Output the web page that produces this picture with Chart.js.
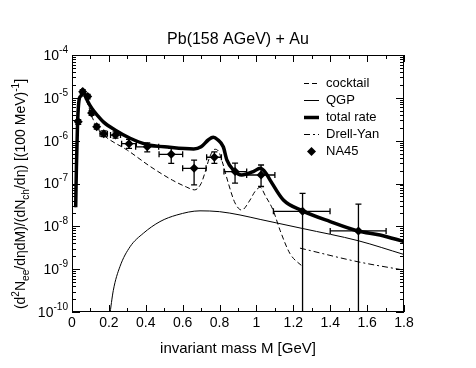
<!DOCTYPE html>
<html>
<head>
<meta charset="utf-8">
<script src="https://cdn.jsdelivr.net/npm/chart.js@4.4.0/dist/chart.umd.min.js"></script>
<style>
  html, body { margin: 0; padding: 0; background: #fff; }
</style>
</head>
<body>
<canvas id="chart" width="476" height="368"></canvas>
<script>
// cocktail (hadronic decays)
const cocktailMass = [0.020, 0.024, 0.030, 0.040, 0.050, 0.058, 0.070, 0.090, 0.110, 0.140, 0.183, 0.300, 0.427, 0.544, 0.620, 0.665, 0.700, 0.720, 0.748, 0.775, 0.795, 0.815, 0.848, 0.884, 0.920, 0.965, 0.992, 1.020, 1.050, 1.090, 1.128, 1.182, 1.250];
const cocktailRate = [2.8e-8, 2.5e-7, 2.2e-6, 8.9e-6, 1.05e-5, 1.48e-5, 1.07e-5, 6.3e-6, 3.5e-6, 1.9e-6, 1.23e-6, 6.0e-7, 2.45e-7, 1.2e-7, 8.3e-8, 7.1e-8, 1.0e-7, 1.74e-7, 4.3e-7, 6.3e-7, 5.6e-7, 3.2e-7, 1.0e-7, 3.5e-8, 2.4e-8, 4.1e-8, 6.5e-8, 8.1e-8, 5.0e-8, 2.4e-8, 8.1e-9, 2.3e-9, 1.15e-9];

// QGP
const qgpMass = [0.204, 0.224, 0.260, 0.315, 0.387, 0.477, 0.568, 0.694, 0.800, 0.911, 1.020, 1.250, 1.553, 1.800];
const qgpRate = [8e-11, 3.2e-10, 1.15e-9, 3.35e-9, 6.9e-9, 1.29e-8, 1.84e-8, 2.3e-8, 2.2e-8, 1.84e-8, 1.45e-8, 8.9e-9, 4.6e-9, 2.2e-9];

// total rate
const totalMass = [0.020, 0.024, 0.030, 0.040, 0.050, 0.058, 0.070, 0.085, 0.107, 0.140, 0.170, 0.233, 0.315, 0.405, 0.530, 0.660, 0.700, 0.740, 0.766, 0.790, 0.820, 0.840, 0.875, 0.920, 0.983, 1.020, 1.050, 1.074, 1.146, 1.250, 1.400, 1.550, 1.670, 1.800];
const totalRate = [2.8e-8, 2.5e-7, 2.5e-6, 9.8e-6, 1.12e-5, 1.58e-5, 1.17e-5, 8.3e-6, 5.7e-6, 3.8e-6, 2.75e-6, 1.78e-6, 1.14e-6, 8.2e-7, 7.0e-7, 6.4e-7, 7.2e-7, 1.05e-6, 1.2e-6, 1.05e-6, 7.2e-7, 3.5e-7, 2.07e-7, 1.58e-7, 1.9e-7, 2.26e-7, 1.78e-7, 1.2e-7, 4.1e-8, 2.3e-8, 1.29e-8, 7.8e-9, 6.3e-9, 4.4e-9];

// Drell-Yan
const dyMass = [1.236, 1.553, 1.800];
const dyRate = [3.1e-9, 1.48e-9, 9.5e-10];

// NA45 data with errors
const na45Mass = [0.034, 0.058, 0.085, 0.106, 0.134, 0.172, 0.236, 0.309, 0.408, 0.538, 0.662, 0.772, 0.884, 1.025, 1.250, 1.553];
const na45Yield = [2.75e-6, 1.39e-5, 1.07e-5, 4.4e-6, 2.1e-6, 1.46e-6, 1.35e-6, 8.5e-7, 7.2e-7, 4.8e-7, 2.26e-7, 4.1e-7, 1.9e-7, 1.58e-7, 2.24e-8, 7.8e-9];
const na45YieldLow = [2.4e-6, 1.25e-5, 9.5e-6, 3.9e-6, 1.85e-6, 1.25e-6, 1.15e-6, 6.6e-7, 5.5e-7, 2.95e-7, 9.3e-8, 2.95e-7, 1.02e-7, 8.5e-8, 1e-12, 1e-12];
const na45YieldHigh = [3.1e-6, 1.55e-5, 1.2e-5, 5.0e-6, 2.4e-6, 1.7e-6, 1.6e-6, 1.07e-6, 8.9e-7, 6.6e-7, 3.5e-7, 5.5e-7, 3.0e-7, 2.7e-7, 5.9e-8, 3.3e-8];
const na45MassLow = [0.034, 0.053, 0.080, 0.100, 0.127, 0.152, 0.209, 0.269, 0.345, 0.472, 0.600, 0.730, 0.824, 0.947, 1.092, 1.400];
const na45MassHigh = [0.034, 0.063, 0.090, 0.112, 0.141, 0.192, 0.263, 0.349, 0.470, 0.600, 0.727, 0.810, 0.947, 1.100, 1.399, 1.703];

// axis ticks
const xTicks = [0, 0.2, 0.4, 0.6, 0.8, 1, 1.2, 1.4, 1.6, 1.8];
const xTickLabels = ['0', '0.2', '0.4', '0.6', '0.8', '1', '1.2', '1.4', '1.6', '1.8'];
const yTicks = [1e-10, 1e-9, 1e-8, 1e-7, 1e-6, 1e-5, 1e-4];
const yTickExp = ['-10', '-9', '-8', '-7', '-6', '-5', '-4'];

const FONT = '"Liberation Sans", Arial, Helvetica, sans-serif';

function pts(xs, ys) {
    return xs.map((m, i) => ({x: m, y: ys[i]}));
}

// draw a string made of normal / sup / sub pieces
function richWidth(ctx, parts, size) {
    let w = 0;
    parts.forEach(p => {
        ctx.font = (p[1] ? size * 0.72 : size) + 'px ' + FONT;
        w += ctx.measureText(p[0]).width;
    });
    return w;
}
function drawRich(ctx, parts, x, y, size) {
    let cx = x;
    parts.forEach(p => {
        const small = p[1];
        ctx.font = (small ? size * 0.72 : size) + 'px ' + FONT;
        let dy = 0;
        if (small === 'sup') dy = -size * 0.42;
        if (small === 'sub') dy = size * 0.25;
        ctx.fillText(p[0], cx, y + dy);
        cx += ctx.measureText(p[0]).width;
    });
}

const yTitle = [['(d'], ['2', 'sup'], ['N'], ['ee', 'sub'], ['/dηdM)/(dN'], ['ch', 'sub'], ['/dη) [(100 MeV)'], ['-1', 'sup'], [']']];

const framePlugin = {
    id: 'frame',
    afterDatasetsDraw(chart) {
        const {ctx, scales: {x, y}} = chart;
        // error bars
        ctx.save();
        ctx.strokeStyle = '#000';
        ctx.lineWidth = 1.3;
        const cap = 3;
        const a = chart.chartArea;
        ctx.beginPath();
        ctx.rect(a.left, a.top, a.right - a.left, a.bottom - a.top);
        ctx.clip();
        na45Mass.forEach((m, i) => {
            const px = x.getPixelForValue(m);
            const py = y.getPixelForValue(na45Yield[i]);
            const yl = y.getPixelForValue(na45YieldLow[i]);
            const yh = y.getPixelForValue(na45YieldHigh[i]);
            const xl = x.getPixelForValue(na45MassLow[i]);
            const xh = x.getPixelForValue(na45MassHigh[i]);
            ctx.beginPath();
            ctx.moveTo(px, yl); ctx.lineTo(px, yh);
            ctx.moveTo(px - cap, yh); ctx.lineTo(px + cap, yh);
            ctx.moveTo(px - cap, yl); ctx.lineTo(px + cap, yl);
            if (xh - xl > 1) {
                ctx.moveTo(xl, py); ctx.lineTo(xh, py);
                ctx.moveTo(xl, py - cap); ctx.lineTo(xl, py + cap);
                ctx.moveTo(xh, py - cap); ctx.lineTo(xh, py + cap);
            }
            ctx.stroke();
        });
        ctx.restore();
    },
    afterDraw(chart) {
        const {ctx, chartArea: a, scales: {x, y}} = chart;
        ctx.save();
        ctx.strokeStyle = '#000';
        ctx.fillStyle = '#000';
        ctx.lineWidth = 1;
        ctx.strokeRect(a.left + 0.5, a.top + 0.5, a.right - a.left - 1, a.bottom - a.top - 1);

        // x ticks (inward, bottom and top)
        ctx.beginPath();
        for (let i = 0; i <= 18; i++) {
            const px = Math.round(x.getPixelForValue(i / 10)) + 0.5;
            const len = i % 2 === 0 ? 7 : 4;
            ctx.moveTo(px, a.bottom); ctx.lineTo(px, a.bottom - len);
            ctx.moveTo(px, a.top); ctx.lineTo(px, a.top + len);
        }
        // y ticks (inward, left and right)
        for (let d = -10; d <= -4; d++) {
            for (let k = 1; k <= 9; k++) {
                if (d === -4 && k > 1) break;
                const py = Math.round(y.getPixelForValue(k * Math.pow(10, d))) + 0.5;
                const len = k === 1 ? 8 : 4;
                ctx.moveTo(a.left, py); ctx.lineTo(a.left + len, py);
                ctx.moveTo(a.right, py); ctx.lineTo(a.right - len, py);
            }
        }
        ctx.stroke();

        // x tick labels
        ctx.font = '14px ' + FONT;
        ctx.textAlign = 'center';
        ctx.textBaseline = 'top';
        xTicks.forEach((v, i) => {
            ctx.fillText(xTickLabels[i], x.getPixelForValue(v), a.bottom + 4);
        });

        // y tick labels 10^n
        ctx.textAlign = 'left';
        ctx.textBaseline = 'middle';
        yTicks.forEach((v, i) => {
            const py = y.getPixelForValue(v);
            const parts = [['10'], [yTickExp[i], 'sup']];
            const w = richWidth(ctx, parts, 14);
            drawRich(ctx, parts, a.left - 4 - w, py + 1, 14);
        });

        // title
        ctx.font = '16px ' + FONT;
        ctx.textAlign = 'center';
        ctx.textBaseline = 'middle';
        ctx.fillText('Pb(158 AGeV) + Au', (a.left + a.right) / 2, 40);

        // x title
        ctx.font = '15px ' + FONT;
        ctx.fillText('invariant mass M [GeV]', (a.left + a.right) / 2, 349);

        // y title
        ctx.save();
        ctx.translate(25, 194);
        ctx.rotate(-Math.PI / 2);
        ctx.textAlign = 'left';
        ctx.textBaseline = 'alphabetic';
        const tw = richWidth(ctx, yTitle, 14);
        drawRich(ctx, yTitle, -tw / 2, 0, 14);
        ctx.restore();

        // legend
        const rows = [
            {label: 'cocktail', dash: [5, 3], w: 1},
            {label: 'QGP', dash: [], w: 1},
            {label: 'total rate', dash: [], w: 3.5},
            {label: 'Drell-Yan', dash: [6, 3, 2, 3], w: 1},
            {label: 'NA45', marker: true}
        ];
        ctx.font = '13px ' + FONT;
        ctx.textAlign = 'left';
        ctx.textBaseline = 'middle';
        rows.forEach((r, i) => {
            const ly = 83.5 + i * 17;
            if (r.marker) {
                ctx.beginPath();
                ctx.moveTo(311.5, ly - 4.5); ctx.lineTo(316, ly); ctx.lineTo(311.5, ly + 4.5); ctx.lineTo(307, ly);
                ctx.closePath();
                ctx.fill();
            } else {
                ctx.beginPath();
                ctx.setLineDash(r.dash);
                ctx.lineWidth = r.w;
                ctx.moveTo(304, ly); ctx.lineTo(319, ly);
                ctx.stroke();
                ctx.setLineDash([]);
            }
            ctx.fillText(r.label, 326, ly);
        });
        ctx.restore();
    }
};

const chart = document.querySelector('#chart').getContext('2d');

new Chart(chart, {
    type: 'line',
    data: {
        datasets: [
            {
                label: 'cocktail',
                data: pts(cocktailMass, cocktailRate),
                borderColor: '#000',
                borderWidth: 1,
                borderDash: [5, 3],
                pointRadius: 0,
                cubicInterpolationMode: 'monotone'
            },
            {
                label: 'QGP',
                data: pts(qgpMass, qgpRate),
                borderColor: '#000',
                borderWidth: 1,
                pointRadius: 0,
                cubicInterpolationMode: 'monotone'
            },
            {
                label: 'total rate',
                data: pts(totalMass, totalRate),
                borderColor: '#000',
                borderWidth: 3.5,
                pointRadius: 0,
                cubicInterpolationMode: 'monotone'
            },
            {
                label: 'Drell-Yan',
                data: pts(dyMass, dyRate),
                borderColor: '#000',
                borderWidth: 1,
                borderDash: [6, 3, 2, 3],
                pointRadius: 0,
                cubicInterpolationMode: 'monotone'
            },
            {
                label: 'NA45',
                data: pts(na45Mass, na45Yield),
                showLine: false,
                pointStyle: 'rectRot',
                pointRadius: 4.5,
                pointBackgroundColor: '#000',
                pointBorderColor: '#000',
                pointBorderWidth: 0
            }
        ]
    },
    options: {
        responsive: false,
        animation: false,
        layout: {padding: {left: 72, right: 72, top: 55, bottom: 56}},
        plugins: {legend: {display: false}, tooltip: {enabled: false}},
        scales: {
            x: {type: 'linear', min: 0, max: 1.8, display: false},
            y: {type: 'logarithmic', min: 1e-10, max: 1e-4, display: false}
        }
    },
    plugins: [framePlugin]
});
</script>
</body>
</html>
